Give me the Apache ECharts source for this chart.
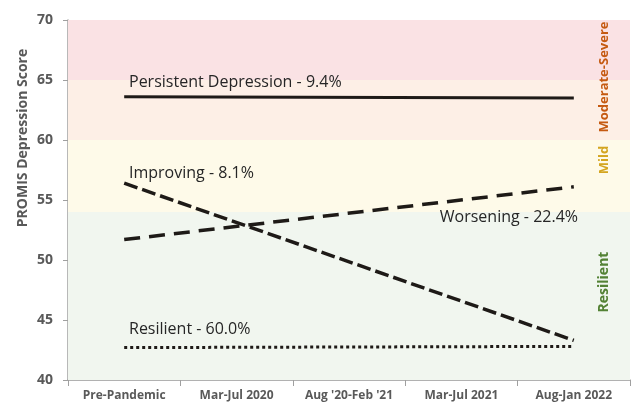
<!DOCTYPE html>
<html>
<head>
<meta charset="utf-8">
<script src="https://cdn.jsdelivr.net/npm/echarts@6/dist/echarts.min.js"></script>
<style>html,body{margin:0;padding:0;background:#fff}#c{width:640px;height:406px}</style>
</head>
<body>
<div id="c"></div>
<script>
var categories = ['Pre-Pandemic', 'Mar-Jul 2020', "Aug '20-Feb '21", 'Mar-Jul 2021', 'Aug-Jan 2022'];
var persistent = [63.6, null, null, null, 63.5];
var improving = [56.4, null, null, null, 43.3];
var worsening = [51.7, null, null, null, 56.1];
var resilient = [42.7, null, null, null, 42.8];
var seriesNames = ['Persistent Depression - 9.4%', 'Improving - 8.1%', 'Worsening - 22.4%', 'Resilient - 60.0%'];
var bandLow = [65, 60, 54, 40];
var bandHigh = [70, 65, 60, 54];
var bandColors = ['#fae2e4', '#fdefe6', '#fefae9', '#f1f6ef'];
var zoneNames = ['Moderate-Severe', 'Mild', 'Resilient'];
var zoneColors = ['#c55a11', '#d4a520', '#548235'];
var yMin = 40, yMax = 70, yStep = 5;

var chart = echarts.init(document.getElementById('c'));
var bands = bandLow.map(function (lo, i) {
  return [{ yAxis: lo, itemStyle: { color: bandColors[i] } }, { yAxis: bandHigh[i] }];
});
var FONT = 'Open Sans';
var lineTypes = ['solid', [14, 5], [16, 9], [3, 3]];
var lineWidths = [3, 3.5, 3.5, 3];
var datasets = [persistent, improving, worsening, resilient];

var series = [{
  type: 'line', data: [], z: 1, silent: true,
  markArea: { silent: true, data: bands, itemStyle: { opacity: 1 } }
}];
datasets.forEach(function (d, i) {
  series.push({
    name: seriesNames[i], type: 'line', data: d, connectNulls: true, symbol: 'none', z: 3,
    lineStyle: { color: '#1e1a17', width: lineWidths[i], type: lineTypes[i], cap: 'butt' },
    silent: true
  });
});

function txt(text, x, y, align) {
  return { type: 'text', x: x, y: y, z: 100,
    style: { text: text, fontFamily: FONT, fontSize: 16, fill: '#262626', textAlign: align || 'left', textVerticalAlign: 'middle' } };
}
var graphics = [
  txt(seriesNames[0], 129, 82),
  txt(seriesNames[1], 129, 173),
  txt(seriesNames[2], 578, 217, 'right'),
  txt(seriesNames[3], 129, 329),
  { type: 'text', x: 23, y: 138, rotation: Math.PI / 2, z: 100,
    style: { text: 'PROMIS Depression Score', fontFamily: FONT, fontSize: 14, fontWeight: 'bold', fill: '#595959', textAlign: 'center', textVerticalAlign: 'middle' } }
];
var zoneY = [77, 160, 282];
var zoneSizes = [13, 13, 14];
zoneNames.forEach(function (n, i) {
  graphics.push({ type: 'text', x: 604, y: zoneY[i], rotation: Math.PI / 2, z: 100,
    style: { text: n, fontFamily: FONT, fontSize: zoneSizes[i], fontWeight: 'bold', fill: zoneColors[i], textAlign: 'center', textVerticalAlign: 'middle' } });
});

chart.setOption({
  animation: false,
  backgroundColor: '#ffffff',
  grid: { left: 68, right: 10, top: 20, bottom: 26 },
  xAxis: {
    type: 'category', data: categories, boundaryGap: true,
    axisLine: { lineStyle: { color: '#a0a0a0', width: 1.5 } },
    axisTick: { show: true, length: 6, lineStyle: { color: '#a0a0a0' } },
    axisLabel: { margin: 10, fontFamily: FONT, fontSize: 12, fontWeight: 'bold', color: '#595959', interval: 0 }
  },
  yAxis: {
    type: 'value', min: yMin, max: yMax, interval: yStep,
    axisLine: { show: true, lineStyle: { color: '#a0a0a0', width: 1.5 } },
    axisTick: { show: true, length: 5, lineStyle: { color: '#a0a0a0' } },
    axisLabel: { margin: 15, fontFamily: FONT, fontSize: 14, fontWeight: 'bold', color: '#595959' },
    splitLine: { show: true, lineStyle: { color: '#e4e4e4', width: 1 } }
  },
  series: series,
  graphic: graphics
});
</script>
</body>
</html>
